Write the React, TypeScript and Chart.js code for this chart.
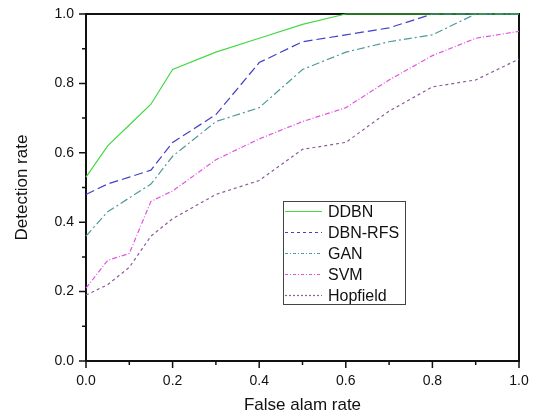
import React, { useEffect, useRef } from "react";
import { Chart, registerables } from "chart.js";

Chart.register(...registerables);

// False alarm rate sampled along the x axis
const falseAlarm = [0, 0.05, 0.1, 0.15, 0.2, 0.3, 0.4, 0.5, 0.6, 0.7, 0.8, 0.9, 1.0];

// Detection rate per method
const ddbn = [0.53, 0.62, 0.68, 0.74, 0.84, 0.89, 0.93, 0.97, 1.0, 1.0, 1.0, 1.0, 1.0];
const dbnRfs = [0.48, 0.51, 0.53, 0.55, 0.63, 0.71, 0.86, 0.92, 0.94, 0.96, 1.0, 1.0, 1.0];
const gan = [0.36, 0.43, 0.47, 0.51, 0.59, 0.69, 0.73, 0.84, 0.89, 0.92, 0.94, 1.0, 1.0];
const svm = [0.21, 0.29, 0.31, 0.46, 0.49, 0.58, 0.64, 0.69, 0.73, 0.81, 0.88, 0.93, 0.95];
const hopfield = [0.19, 0.22, 0.27, 0.36, 0.41, 0.48, 0.52, 0.61, 0.63, 0.72, 0.79, 0.81, 0.87];

const seriesNames = ["DDBN", "DBN-RFS", "GAN", "SVM", "Hopfield"];
const seriesValues = [ddbn, dbnRfs, gan, svm, hopfield];
const seriesColors = ["#45d845", "#4040c8", "#4f9a98", "#e055e0", "#8c5c9c"];
const lineDashes = [[], [9, 4], [8, 3, 2, 3], [5, 2, 1, 2], [3, 3]];
const legendDashes = [[], [3, 3], [3, 2, 1, 2], [3, 2, 1, 2], [2, 2]];

const FONT = "'Liberation Sans', Arial, sans-serif";

// Axis frame with outward major/minor tick marks
const framePlugin = {
  id: "frame",
  beforeDatasetsDraw(chart: any) {
    const { ctx, chartArea: a, scales } = chart;
    ctx.save();
    ctx.strokeStyle = "#111";
    ctx.lineWidth = 2;
    ctx.strokeRect(a.left, a.top, a.right - a.left, a.bottom - a.top);
    ctx.lineWidth = 1.5;
    for (let i = 0; i <= 10; i++) {
      const v = i / 10;
      const len = i % 2 === 0 ? 7 : 4;
      const x = scales.x.getPixelForValue(v);
      const y = scales.y.getPixelForValue(v);
      ctx.beginPath();
      ctx.moveTo(x, a.bottom);
      ctx.lineTo(x, a.bottom + len);
      ctx.moveTo(a.left, y);
      ctx.lineTo(a.left - len, y);
      ctx.stroke();
    }
    ctx.restore();
  },
};

// Boxed legend placed inside the plot area
const legendPlugin = {
  id: "boxLegend",
  afterDatasetsDraw(chart: any) {
    const { ctx, chartArea: a } = chart;
    const left = a.left + 197;
    const top = a.top + 187;
    const w = 122;
    const h = 103;
    ctx.save();
    ctx.fillStyle = "#fff";
    ctx.fillRect(left, top, w, h);
    ctx.strokeStyle = "#444";
    ctx.lineWidth = 1;
    ctx.strokeRect(left + 0.5, top + 0.5, w, h);
    ctx.font = `16px ${FONT}`;
    ctx.textBaseline = "middle";
    ctx.textAlign = "left";
    seriesNames.forEach((name, i) => {
      const y = top + 10.5 + i * 21;
      ctx.strokeStyle = seriesColors[i];
      ctx.lineWidth = 1.2;
      ctx.setLineDash(legendDashes[i]);
      ctx.beginPath();
      ctx.moveTo(left + 2, y);
      ctx.lineTo(left + 39, y);
      ctx.stroke();
      ctx.setLineDash([]);
      ctx.fillStyle = "#111";
      ctx.fillText(name, left + 45, y + 1);
    });
    ctx.restore();
  },
};

export default function App() {
  const canvasRef = useRef<HTMLCanvasElement | null>(null);

  useEffect(() => {
    if (!canvasRef.current) return;
    const datasets = seriesNames.map((name, i) => ({
      label: name,
      data: falseAlarm.map((x, j) => ({ x, y: seriesValues[i][j] })),
      borderColor: seriesColors[i],
      backgroundColor: seriesColors[i],
      borderWidth: 1.2,
      borderDash: lineDashes[i],
      pointRadius: 0,
      tension: 0,
      fill: false,
      clip: 4,
    }));

    const tickFont = { family: FONT, size: 14 };
    const titleFont = { family: FONT, size: 17 };

    const chart = new Chart(canvasRef.current, {
      type: "line",
      data: { datasets },
      options: {
        animation: false,
        responsive: true,
        maintainAspectRatio: false,
        layout: { padding: { top: 14, right: 17, left: 0, bottom: 0 } },
        plugins: { legend: { display: false }, tooltip: { enabled: false } },
        scales: {
          x: {
            type: "linear",
            min: 0,
            max: 1,
            grid: { display: false, drawTicks: false },
            border: { display: false },
            ticks: {
              stepSize: 0.2,
              padding: 12,
              color: "#111",
              font: tickFont,
              callback: (v: any) => Number(v).toFixed(1),
            },
            title: {
              display: true,
              text: "False alam rate",
              color: "#111",
              font: titleFont,
              padding: { top: 0, bottom: 2 },
            },
            afterFit(s: any) {
              s.height = 57;
              s.paddingLeft = 0;
              s.paddingRight = 0;
            },
          },
          y: {
            type: "linear",
            min: 0,
            max: 1,
            grid: { display: false, drawTicks: false },
            border: { display: false },
            ticks: {
              stepSize: 0.2,
              padding: 12,
              color: "#111",
              font: tickFont,
              callback: (v: any) => Number(v).toFixed(1),
            },
            title: {
              display: true,
              text: "Detection rate",
              color: "#111",
              font: titleFont,
              padding: { top: 12, bottom: 0 },
            },
            afterFit(s: any) {
              s.width = 86;
              s.paddingTop = 0;
              s.paddingBottom = 0;
            },
          },
        },
      },
      plugins: [framePlugin, legendPlugin],
    });
    return () => chart.destroy();
  }, []);

  return (
    <div style={{ position: "fixed", left: 0, top: 0, width: 536, height: 418, background: "#fff" }}>
      <canvas ref={canvasRef} />
    </div>
  );
}
